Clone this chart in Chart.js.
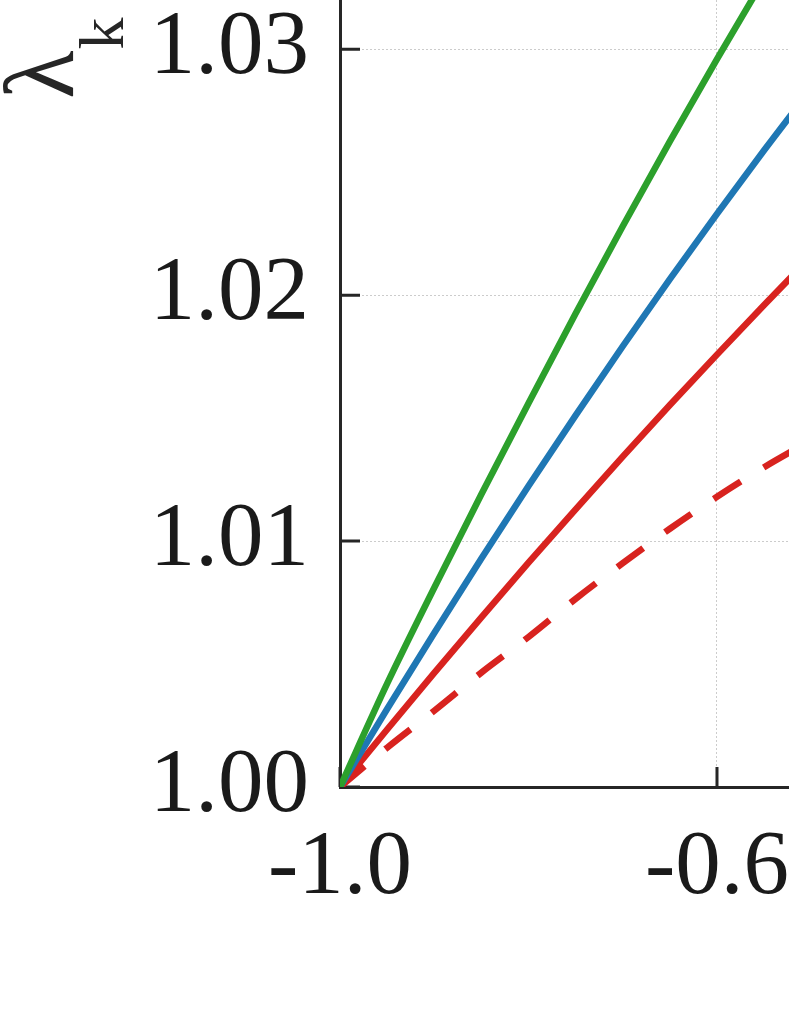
<!DOCTYPE html>
<html>
<head>
<meta charset="utf-8">
<script src="https://cdn.jsdelivr.net/npm/chart.js@4/dist/chart.umd.min.js"></script>
<style>
    html, body { margin: 0; padding: 0; background: #fff; overflow: hidden; }
    canvas { display: block; }
</style>
</head>
<body>
<canvas id="lamChart" width="789" height="1021"></canvas>
<script>
// ---------------------------------------------------------------
// DATA
// ---------------------------------------------------------------
var xVals     = [-1.00, -0.95, -0.90, -0.85, -0.80, -0.75, -0.70, -0.65, -0.60, -0.55, -0.50];
var greenVals = [1.00000, 1.00420, 1.00810, 1.01190, 1.01560, 1.01925, 1.02280, 1.02625, 1.02960, 1.03285, 1.03600];
var blueVals  = [1.00000, 1.00317, 1.00626, 1.00929, 1.01224, 1.01511, 1.01792, 1.02065, 1.02330, 1.02589, 1.02840];
var redVals   = [1.00000, 1.00234, 1.00464, 1.00690, 1.00912, 1.01129, 1.01343, 1.01553, 1.01758, 1.01960, 1.02158];
var dashVals  = [1.00000, 1.00160, 1.00310, 1.00465, 1.00610, 1.00765, 1.00910, 1.01050, 1.01180, 1.01300, 1.01410];

var xTicks = [-1.0, -0.6];
var yTicks = [1.00, 1.01, 1.02, 1.03];

var X_MIN = -1.0, X_MAX = -0.5236;
var Y_MIN = 1.0,  Y_MAX = 1.0320;

var AXIS_COLOR = '#262626';
var FONT_FAMILY = "'Liberation Serif', 'Times New Roman', serif";

function pts(ys) {
    return xVals.map(function (x, i) { return { x: x, y: ys[i] }; });
}

// ---------------------------------------------------------------
// PLUGIN: inward tick marks + rotated lambda_k label
// ---------------------------------------------------------------
var innerTicks = {
    id: 'innerTicks',
    beforeDatasetsDraw: function (chart) {
        var c = chart.ctx, a = chart.chartArea;
        var xs = chart.scales.x, ys = chart.scales.y;
        c.save();
        c.strokeStyle = AXIS_COLOR;
        c.lineWidth = 3;
        c.beginPath();
        yTicks.forEach(function (v) {
            var py = ys.getPixelForValue(v);
            c.moveTo(a.left, py);
            c.lineTo(a.left + 20, py);
        });
        xTicks.forEach(function (v) {
            var px = xs.getPixelForValue(v);
            c.moveTo(px, a.bottom);
            c.lineTo(px, a.bottom - 20);
        });
        c.stroke();
        c.restore();
    },
    afterDraw: function (chart) {
        var c = chart.ctx;
        c.save();
        c.translate(73, 99);
        c.rotate(-Math.PI / 2);
        c.fillStyle = AXIS_COLOR;
        c.textAlign = 'left';
        c.textBaseline = 'alphabetic';
        c.font = '100px ' + FONT_FAMILY;
        c.fillText('λ', 0, 0);
        var w = c.measureText('λ').width;
        c.font = '64px ' + FONT_FAMILY;
        c.fillText('k', w + 1, 50);
        c.restore();
    }
};

// ---------------------------------------------------------------
// CHART
// ---------------------------------------------------------------
function lineSet(label, ys, color, dash) {
    return {
        label: label,
        data: pts(ys),
        borderColor: color,
        backgroundColor: color,
        borderWidth: 6.5,
        borderDash: dash || [],
        borderCapStyle: 'butt',
        pointRadius: 0,
        cubicInterpolationMode: 'monotone',
        fill: false
    };
}

var ctx = document.getElementById('lamChart').getContext('2d');

new Chart(ctx, {
    type: 'line',
    data: {
        datasets: [
            lineSet('green', greenVals, '#2ca02c'),
            lineSet('blue',  blueVals,  '#1f77b4'),
            lineSet('red',   redVals,   '#d8231f'),
            lineSet('red dashed', dashVals, '#d8231f', [32, 27])
        ]
    },
    options: {
        responsive: false,
        animation: false,
        devicePixelRatio: 1,
        events: [],
        layout: { padding: 0 },
        plugins: {
            legend:  { display: false },
            tooltip: { enabled: false },
            title:   { display: false }
        },
        scales: {
            x: {
                type: 'linear',
                min: X_MIN, max: X_MAX,
                afterBuildTicks: function (s) {
                    s.ticks = xTicks.map(function (v) { return { value: v }; });
                },
                afterFit: function (s) {
                    s.height = 234;
                    s.paddingLeft = 0; s.paddingRight = 0;
                },
                grid:   { color: 'rgba(0,0,0,0.2)', lineWidth: 1, drawTicks: false },
                border: { display: true, color: AXIS_COLOR, width: 3, dash: [2, 2] },
                ticks:  {
                    color: '#1a1a1a', padding: 27, maxRotation: 0, autoSkip: false,
                    font: { family: FONT_FAMILY, size: 91 },
                    callback: function (v) { return v.toFixed(1); }
                }
            },
            y: {
                type: 'linear',
                min: Y_MIN, max: Y_MAX,
                afterBuildTicks: function (s) {
                    s.ticks = yTicks.map(function (v) { return { value: v }; });
                },
                afterFit: function (s) {
                    s.width = 340;
                    s.paddingTop = 0; s.paddingBottom = 0;
                },
                grid:   { color: 'rgba(0,0,0,0.2)', lineWidth: 1, drawTicks: false },
                border: { display: true, color: AXIS_COLOR, width: 3, dash: [2, 2] },
                ticks:  {
                    color: '#1a1a1a', padding: 31, autoSkip: false,
                    font: { family: FONT_FAMILY, size: 91 },
                    callback: function (v) { return v.toFixed(2); }
                }
            }
        }
    },
    plugins: [innerTicks]
});
</script>
</body>
</html>
